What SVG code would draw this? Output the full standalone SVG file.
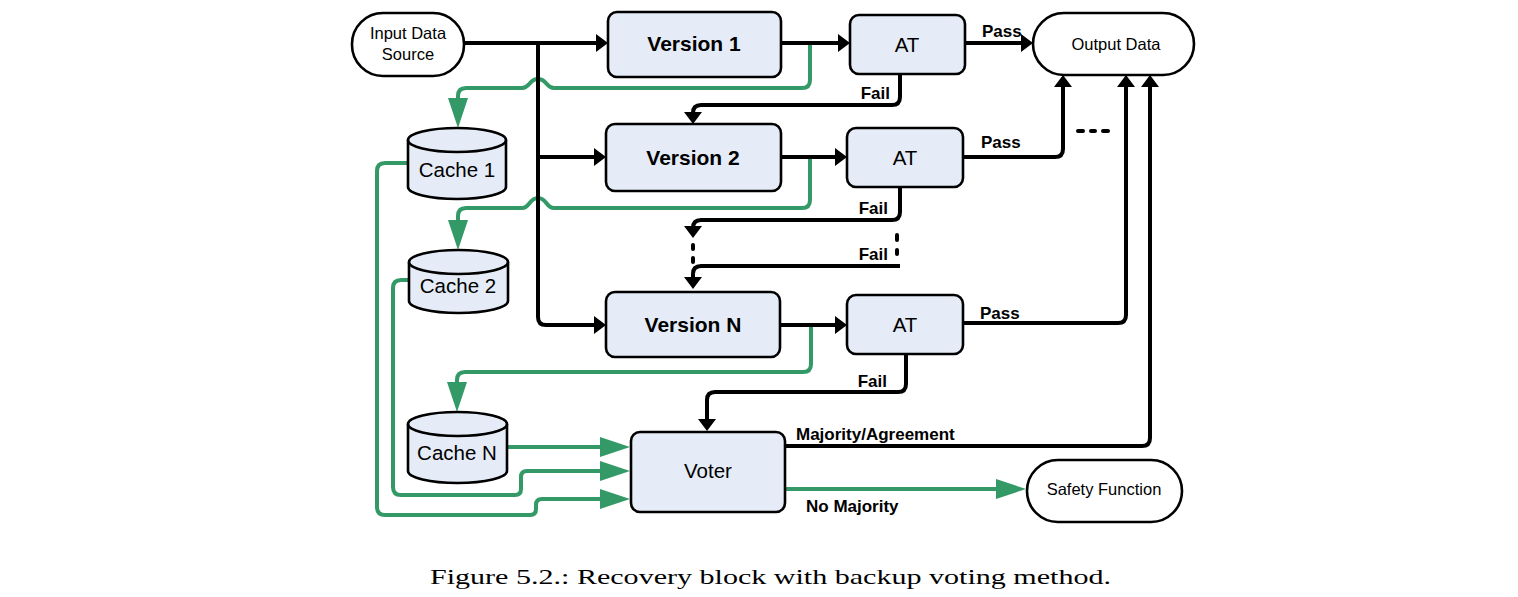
<svg xmlns="http://www.w3.org/2000/svg" width="1518" height="597" viewBox="0 0 1518 597">
<style>
.bg{fill:#ffffff}
.box{fill:#E5ECF7;stroke:#000;stroke-width:2.6}
.term{fill:#ffffff;stroke:#000;stroke-width:2.6}
.blk{fill:none;stroke:#000;stroke-width:4;stroke-linejoin:round}
.grn{fill:none;stroke:#339966;stroke-width:4;stroke-linejoin:round}
.dash{fill:none;stroke:#000;stroke-width:4;stroke-linecap:round}
text{font-family:"Liberation Sans",Arial,sans-serif;fill:#000}
.t16{font-size:16.5px;text-anchor:middle}
.t20{font-size:20.5px;text-anchor:middle}
.tb20{font-size:21px;font-weight:bold;text-anchor:middle}
.lbl{font-size:17px;font-weight:bold}
.cap{font-family:"Liberation Serif","DejaVu Serif",serif;font-size:22px}
</style>
<defs>
<marker id="ab" viewBox="0 0 12 18" markerWidth="12" markerHeight="18" refX="2" refY="9" orient="auto" markerUnits="userSpaceOnUse">
<path d="M0,0 L12,9 L0,18 Z" fill="#000"/>
</marker>
<marker id="ag" viewBox="0 0 30 20" markerWidth="30" markerHeight="20" refX="4" refY="10" orient="auto" markerUnits="userSpaceOnUse">
<path d="M0,0 L30,10 L0,20 Z" fill="#339966"/>
</marker>
</defs>
<rect class="bg" x="0" y="0" width="1518" height="597"/>

<g id="connectors">
<g id="green-links">
<path class="grn" marker-end="url(#ag)" d="M810,43 V80 Q810,88 802,88 H554 C546,88 547,79 538,79 C529,79 530,88 522,88 H466 Q458,88 458,96 V102"/>
<path class="grn" marker-end="url(#ag)" d="M810,157 V200 Q810,208 802,208 H554 C546,208 547,198 538,198 C529,198 530,208 522,208 H466 Q458,208 458,216 V224"/>
<path class="grn" marker-end="url(#ag)" d="M811,325 V364 Q811,372 803,372 H465 Q457,372 457,380 V386"/>
<path class="grn" marker-end="url(#ag)" d="M506,447 H604"/>
<path class="grn" marker-end="url(#ag)" d="M409,280 H401 Q393,280 393,288 V487 Q393,495 401,495 H515 Q521,495 521,489 V477 Q521,471 527,471 H604"/>
<path class="grn" marker-end="url(#ag)" d="M408,163 H385 Q377,163 377,171 V507 Q377,515 385,515 H530 Q536,515 536,509 V505 Q536,499 542,499 H604"/>
<path class="grn" marker-end="url(#ag)" d="M785,489 H1000"/>
</g>
<g id="black-links">
<path class="blk" marker-end="url(#ab)" d="M464,43 H598"/>
<path class="blk" marker-end="url(#ab)" d="M538,43 V317 Q538,325 546,325 H596"/>
<path class="blk" marker-end="url(#ab)" d="M538,157 H596"/>
<path class="blk" marker-end="url(#ab)" d="M781,43 H840"/>
<path class="blk" marker-end="url(#ab)" d="M781,157 H837"/>
<path class="blk" marker-end="url(#ab)" d="M780,325 H837"/>
<path class="blk" marker-end="url(#ab)" d="M965,43 H1023"/>
<path class="blk" marker-end="url(#ab)" d="M963,157 H1055 Q1063,157 1063,149 V85"/>
<path class="blk" marker-end="url(#ab)" d="M963,323 H1118 Q1126,323 1126,315 V85"/>
<path class="blk" marker-end="url(#ab)" d="M785,446 H1142 Q1150,446 1150,438 V85"/>
<path class="blk" marker-end="url(#ab)" d="M900,74 V97 Q900,105 892,105 H701 Q693,105 693,113 V114"/>
<path class="blk" marker-end="url(#ab)" d="M900,187 V212 Q900,220 892,220 H701 Q693,220 693,228"/>
<path class="blk" marker-end="url(#ab)" d="M900,266 H701 Q693,266 693,274 V279"/>
<path class="blk" marker-end="url(#ab)" d="M906,354 V384 Q906,392 898,392 H715 Q707,392 707,400 V421"/>
<path class="dash" d="M693,245 V249 M693,258 V262 M897,235 V240 M897,250 V254"/>
<path class="dash" d="M1078,131 H1083 M1091,131 H1095 M1103,131 H1108"/>
</g>
<g id="edge-labels">
<text class="lbl" x="982" y="37">Pass</text>
<text class="lbl" x="981" y="148">Pass</text>
<text class="lbl" x="980" y="319">Pass</text>
<text class="lbl" x="890" y="99" text-anchor="end">Fail</text>
<text class="lbl" x="888" y="214" text-anchor="end">Fail</text>
<text class="lbl" x="888" y="260" text-anchor="end">Fail</text>
<text class="lbl" x="887" y="387" text-anchor="end">Fail</text>
<text class="lbl" x="796" y="440">Majority/Agreement</text>
<text class="lbl" x="806" y="512">No Majority</text>
</g>
</g>

<g id="input">
<rect class="term" x="352" y="13" width="112" height="63" rx="31" ry="31"/>
<text class="t16" x="408" y="39">Input Data</text>
<text class="t16" x="408" y="60">Source</text>
</g>
<g id="version1">
<rect class="box" x="608" y="12" width="173" height="65" rx="9"/>
<text class="tb20" x="694" y="51">Version 1</text>
</g>
<g id="version2">
<rect class="box" x="606" y="124" width="175" height="67" rx="9"/>
<text class="tb20" x="693" y="165">Version 2</text>
</g>
<g id="versionN">
<rect class="box" x="606" y="292" width="174" height="65" rx="9"/>
<text class="tb20" x="693" y="332">Version N</text>
</g>
<g id="at1">
<rect class="box" x="850" y="15" width="115" height="59" rx="9"/>
<text class="t20" x="907" y="52">AT</text>
</g>
<g id="at2">
<rect class="box" x="847" y="128" width="116" height="59" rx="9"/>
<text class="t20" x="905" y="165">AT</text>
</g>
<g id="atN">
<rect class="box" x="847" y="295" width="116" height="59" rx="9"/>
<text class="t20" x="905" y="332">AT</text>
</g>
<g id="output">
<rect class="term" x="1033" y="13" width="161" height="62" rx="31" ry="31"/>
<text class="t16" x="1116" y="50">Output Data</text>
</g>
<g id="cache1">
<path class="box" d="M408,140 A49,12 0 0 1 506,140 V187 A49,12 0 0 1 408,187 Z"/>
<path class="box" fill="none" d="M408,140 A49,12 0 0 0 506,140"/>
<text class="t20" x="457" y="177">Cache 1</text>
</g>
<g id="cache2">
<path class="box" d="M409,262 A49.5,12 0 0 1 508,262 V301 A49.5,12 0 0 1 409,301 Z"/>
<path class="box" fill="none" d="M409,262 A49.5,12 0 0 0 508,262"/>
<text class="t20" x="458" y="293">Cache 2</text>
</g>
<g id="cacheN">
<path class="box" d="M408,424 A49.5,12 0 0 1 507,424 V471 A49.5,12 0 0 1 408,471 Z"/>
<path class="box" fill="none" d="M408,424 A49.5,12 0 0 0 507,424"/>
<text class="t20" x="457" y="460">Cache N</text>
</g>
<g id="voter">
<rect class="box" x="631" y="432" width="154" height="80" rx="9"/>
<text class="t20" x="708" y="478">Voter</text>
</g>
<g id="safety">
<rect class="term" x="1027" y="460" width="155" height="62" rx="31" ry="31"/>
<text class="t16" x="1104" y="495">Safety Function</text>
</g>
<text class="cap" x="430" y="584" textLength="681" lengthAdjust="spacingAndGlyphs">Figure 5.2.: Recovery block with backup voting method.</text>
</svg>
